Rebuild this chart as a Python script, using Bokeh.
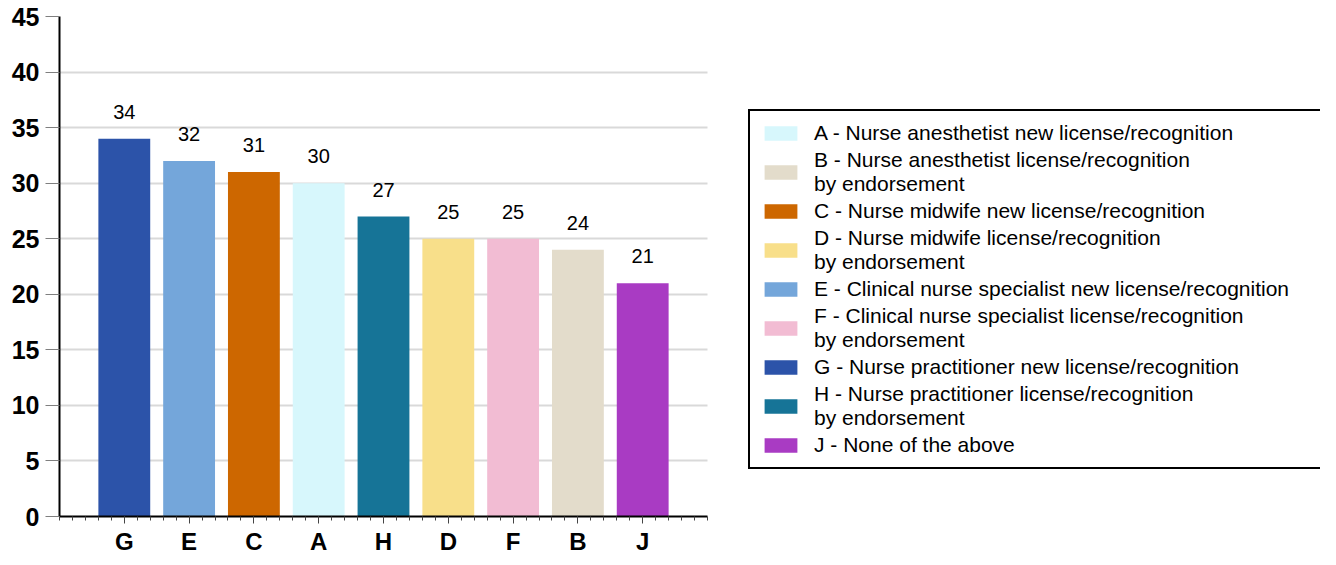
from bokeh.plotting import figure
from bokeh.models import Range1d, FixedTicker, Legend, LegendItem, ColumnDataSource
from bokeh.core.properties import value
from bokeh.embed import file_html
from bokeh.resources import INLINE

# ---- data ----
categories = ["G", "E", "C", "A", "H", "D", "F", "B", "J"]
values = [34, 32, 31, 30, 27, 25, 25, 24, 21]
colors = ["#2c53a9", "#74a6da", "#cd6700", "#d7f7fc", "#167497",
          "#f8df8a", "#f2bcd3", "#e3dccb", "#a93bc3"]
legend_order = ["A", "B", "C", "D", "E", "F", "G", "H", "J"]
legend_labels = {
    "A": "A - Nurse anesthetist new license/recognition",
    "B": "B - Nurse anesthetist license/recognition\nby endorsement",
    "C": "C - Nurse midwife new license/recognition",
    "D": "D - Nurse midwife license/recognition\nby endorsement",
    "E": "E - Clinical nurse specialist new license/recognition",
    "F": "F - Clinical nurse specialist license/recognition\nby endorsement",
    "G": "G - Nurse practitioner new license/recognition",
    "H": "H - Nurse practitioner license/recognition\nby endorsement",
    "J": "J - None of the above",
}
y_ticks = [0, 5, 10, 15, 20, 25, 30, 35, 40, 45]

FONT = "Liberation Sans"

xs = list(range(1, len(categories) + 1))
src = ColumnDataSource(dict(x=xs, v=values, color=colors,
                            label=[str(v) for v in values], cat=categories))

W, H = 1320, 557
LEFT, TOP, BOTTOM = 59, 16, 38
slot_px = 64.8
frame_w = W - LEFT
frame_bottom = H - BOTTOM

p = figure(width=W, height=H, output_backend="svg", toolbar_location=None,
           x_range=Range1d(0, frame_w / slot_px), y_range=Range1d(0, 45),
           min_border_left=LEFT, min_border_top=TOP, min_border_right=0,
           min_border_bottom=BOTTOM)
p.outline_line_color = None
p.background_fill_color = "white"
p.border_fill_color = "white"

p.xgrid.visible = False
p.ygrid.grid_line_color = "#d9d9d9"
p.ygrid.grid_line_width = 2
p.ygrid.cross_bounds = (0, len(categories) + 1)

# y axis
p.yaxis.ticker = FixedTicker(ticks=y_ticks)
p.yaxis.axis_line_color = "black"
p.yaxis.axis_line_width = 2
p.yaxis.major_tick_line_color = "#7f7f7f"
p.yaxis.major_tick_line_width = 1
p.yaxis.major_tick_out = 14
p.yaxis.major_tick_in = 0
p.yaxis.minor_tick_line_color = None
p.yaxis.major_label_standoff = 6
p.yaxis.major_label_text_font = FONT
p.yaxis.major_label_text_font_style = "bold"
p.yaxis.major_label_text_font_size = "25px"
p.yaxis.major_label_text_color = "black"

# x axis
n = len(categories)
p.xaxis.ticker = FixedTicker(ticks=xs, minor_ticks=[i * 0.2 for i in range(5 * (n + 1) + 1)])
p.xaxis.bounds = (0, n + 1)
p.xaxis.major_label_overrides = {x: c for x, c in zip(xs, categories)}
p.xaxis.axis_line_color = "black"
p.xaxis.axis_line_width = 2
p.xaxis.major_tick_line_color = "#444444"
p.xaxis.major_tick_out = 7
p.xaxis.major_tick_in = 0
p.xaxis.minor_tick_line_color = "#444444"
p.xaxis.minor_tick_out = 4
p.xaxis.minor_tick_in = 0
p.xaxis.major_label_standoff = 4
p.xaxis.major_label_text_font = FONT
p.xaxis.major_label_text_font_style = "bold"
p.xaxis.major_label_text_font_size = "24px"
p.xaxis.major_label_text_color = "black"

bars = p.vbar(x="x", top="v", width=0.8, fill_color="color", line_color=None, source=src)

p.text(x="x", y="v", text="label", source=src, text_align="center",
       text_baseline="alphabetic", y_offset=-27,
       text_font=value(FONT), text_font_size=value("20px"), text_color="black")

items = [LegendItem(label=legend_labels[c], renderers=[bars], index=categories.index(c))
         for c in legend_order]
legend_top = 110
legend_h = 362
legend = Legend(items=items, location=(748 - LEFT, frame_bottom - legend_top - legend_h),
                border_line_color="black", border_line_alpha=1.0,
                border_line_width=2, padding=10, spacing=3, margin=0,
                glyph_width=41, glyph_height=18, label_standoff=13,
                label_text_font=FONT, label_text_font_size="21px",
                label_text_color="black",
                label_width=620, label_height=20,
                background_fill_color="white", background_fill_alpha=1)
p.add_layout(legend)

open("out.html", "w").write(file_html(p, INLINE))
